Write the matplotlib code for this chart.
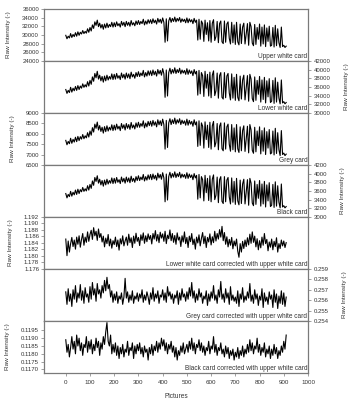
import numpy as np
import matplotlib
matplotlib.use("Agg")
import matplotlib.pyplot as plt

plt.rcParams['font.family'] = ['Liberation Sans', 'DejaVu Sans']

# picture index (every 5th picture)
pictures = np.arange(0, 911, 5)

upper_white = [
    29900, 29100, 29700, 29300, 30300, 29400, 30100, 29600, 30500, 29700,
    30700, 29900, 30600, 30200, 31000, 30300, 30800, 30400, 31400, 30600,
    31700, 30900, 32300, 31500, 33000, 32200, 33400, 31900, 32700, 31600,
    32400, 31300, 32500, 31600, 32700, 31700, 32400, 31900, 32900, 31800,
    32800, 31900, 33000, 32100, 32600, 31800, 33100, 32200, 32900, 31900,
    33100, 32200, 32900, 32000, 33300, 32300, 32800, 32100, 33200, 32400,
    33300, 32400, 33100, 32600, 33600, 32300, 33200, 32500, 33500, 32700,
    33500, 32600, 33700, 32800, 33400, 32500, 33800, 32900, 33600, 32700,
    33900, 32900, 28300, 33700, 28600, 33200, 34000, 32900, 33800, 33100,
    34100, 33000, 33800, 33200, 34000, 32900, 33700, 33100, 33600, 32800,
    33900, 32800, 33700, 33000, 33500, 32600, 33800, 32900, 33400, 28800,
    33600, 29000, 33200, 32600, 28500, 33400, 30100, 32800, 28600, 33300,
    28300, 32700, 33500, 28700, 29600, 33100, 28200, 32600, 33200, 28400,
    28000, 33200, 28300, 32500, 33000, 29200, 27900, 32900, 28200, 32300,
    27800, 32900, 28400, 27700, 32500, 28000, 31800, 32700, 27900, 30200,
    32600, 27600, 32900, 31900, 28100, 27500, 32400, 27800, 31700, 29000,
    32500, 27400, 31800, 27900, 32300, 27300, 31600, 28500, 32000, 27400,
    27600, 31700, 27200, 32200, 27500, 31400, 28200, 27100, 31800, 27300,
    27600, 27100, 27400]

lower_white = [
    35400, 34500, 35200, 34700, 35900, 34800, 35700, 35100, 36100, 35200,
    36300, 35400, 36200, 35700, 36700, 35900, 36500, 36000, 37200, 36200,
    37500, 36600, 38300, 37300, 39100, 38100, 39600, 37800, 38700, 37400,
    38400, 37100, 38500, 37400, 38700, 37600, 38400, 37800, 39000, 37700,
    38900, 37800, 39100, 38000, 38600, 37700, 39200, 38100, 38900, 37800,
    39200, 38100, 39000, 37900, 39400, 38300, 38900, 38000, 39300, 38400,
    39500, 38400, 39200, 38600, 39800, 38300, 39300, 38500, 39700, 38700,
    39700, 38600, 39900, 38800, 39600, 38500, 40000, 39000, 39800, 38700,
    40200, 39000, 33600, 39900, 33900, 39300, 40300, 39000, 40000, 39200,
    40400, 39100, 40000, 39300, 40300, 39000, 39900, 39200, 39800, 38900,
    40200, 38900, 39900, 39100, 39700, 38600, 40000, 39000, 39600, 34100,
    39800, 34400, 39300, 38600, 33800, 39600, 35700, 38900, 33900, 39400,
    33500, 38700, 39700, 34000, 35100, 39200, 33400, 38600, 39300, 33600,
    33200, 39300, 33500, 38500, 39100, 34600, 33000, 39000, 33400, 38200,
    32900, 38900, 33600, 32800, 38500, 33200, 37600, 38700, 33000, 35800,
    38600, 32700, 38900, 37800, 33300, 32600, 38300, 32900, 37500, 34300,
    38400, 32500, 37600, 33100, 38200, 32300, 37400, 33700, 37900, 32400,
    32700, 37500, 32200, 38100, 32500, 37100, 33400, 32100, 37600, 32300,
    32600, 32100, 32400]

grey_card = [
    7680, 7470, 7630, 7520, 7780, 7540, 7730, 7600, 7830, 7620,
    7870, 7670, 7860, 7740, 7960, 7760, 7900, 7800, 8050, 7840,
    8130, 7930, 8290, 8080, 8460, 8260, 8560, 8180, 8390, 8110,
    8310, 8030, 8340, 8100, 8380, 8130, 8310, 8180, 8430, 8150,
    8410, 8180, 8460, 8230, 8360, 8150, 8490, 8260, 8430, 8180,
    8490, 8260, 8440, 8210, 8540, 8280, 8420, 8230, 8520, 8310,
    8550, 8310, 8490, 8360, 8620, 8280, 8510, 8330, 8590, 8390,
    8600, 8360, 8640, 8410, 8570, 8330, 8670, 8430, 8620, 8390,
    8700, 8440, 7260, 8640, 7340, 8520, 8720, 8440, 8670, 8490,
    8750, 8460, 8670, 8520, 8720, 8440, 8650, 8490, 8620, 8410,
    8700, 8410, 8640, 8460, 8590, 8360, 8670, 8430, 8570, 7390,
    8620, 7440, 8520, 8360, 7310, 8570, 7720, 8410, 7340, 8550,
    7260, 8380, 8590, 7370, 7590, 8490, 7230, 8360, 8520, 7280,
    7180, 8520, 7260, 8330, 8460, 7490, 7160, 8440, 7230, 8280,
    7130, 8440, 7280, 7100, 8330, 7180, 8150, 8380, 7150, 7740,
    8360, 7080, 8440, 8180, 7200, 7060, 8310, 7130, 8130, 7430,
    8330, 7030, 8150, 7160, 8280, 7000, 8100, 7310, 8200, 7030,
    7080, 8130, 6980, 8260, 7050, 8050, 7230, 6950, 8150, 7000,
    7070, 6950, 7020]

black_card = [
    3540, 3440, 3520, 3470, 3590, 3480, 3570, 3510, 3620, 3520,
    3640, 3540, 3630, 3580, 3680, 3590, 3650, 3600, 3720, 3620,
    3750, 3660, 3830, 3730, 3910, 3820, 3950, 3780, 3870, 3740,
    3840, 3710, 3850, 3740, 3870, 3760, 3840, 3780, 3900, 3770,
    3890, 3780, 3910, 3800, 3860, 3770, 3920, 3810, 3890, 3780,
    3920, 3810, 3900, 3790, 3940, 3820, 3890, 3800, 3930, 3840,
    3950, 3840, 3920, 3860, 3980, 3830, 3930, 3850, 3970, 3870,
    3980, 3860, 3990, 3880, 3960, 3850, 4010, 3900, 3980, 3870,
    4020, 3900, 3350, 3990, 3390, 3930, 4030, 3900, 4000, 3920,
    4040, 3910, 4000, 3930, 4030, 3900, 3990, 3920, 3980, 3890,
    4020, 3890, 3990, 3910, 3970, 3860, 4000, 3900, 3960, 3410,
    3980, 3440, 3930, 3860, 3370, 3960, 3560, 3890, 3380, 3950,
    3350, 3870, 3970, 3400, 3500, 3920, 3330, 3860, 3930, 3360,
    3310, 3930, 3350, 3850, 3910, 3460, 3300, 3900, 3340, 3820,
    3290, 3890, 3370, 3280, 3850, 3310, 3760, 3870, 3300, 3580,
    3860, 3270, 3890, 3780, 3320, 3260, 3830, 3290, 3750, 3430,
    3840, 3250, 3760, 3300, 3820, 3230, 3740, 3370, 3790, 3240,
    3270, 3750, 3220, 3810, 3250, 3720, 3340, 3210, 3760, 3230,
    3260, 3210, 3240]

lower_corrected = [
    1.1852, 1.1801, 1.1846, 1.1812, 1.1838, 1.1857, 1.1829, 1.1849, 1.1821, 1.1858,
    1.1836, 1.1862, 1.1827, 1.1851, 1.1869, 1.1833, 1.1858, 1.1842, 1.1874, 1.1845,
    1.1866, 1.1879, 1.1851, 1.1887, 1.1862, 1.1876, 1.1848, 1.1883, 1.1857, 1.1869,
    1.1843, 1.1861, 1.1828, 1.1855, 1.1838, 1.1866, 1.1831, 1.1852, 1.1824, 1.1847,
    1.1835, 1.1858, 1.1829, 1.1849, 1.1818, 1.1853, 1.1837, 1.1862, 1.1831, 1.1846,
    1.1858, 1.1833, 1.1867, 1.1841, 1.1856, 1.1826, 1.1861, 1.1839, 1.1870, 1.1845,
    1.1857, 1.1832, 1.1865, 1.1848, 1.1871, 1.1839, 1.1862, 1.1844, 1.1868, 1.1851,
    1.1863, 1.1837, 1.1869, 1.1852, 1.1878, 1.1846, 1.1866, 1.1841, 1.1873, 1.1855,
    1.1868, 1.1845, 1.1876, 1.1838, 1.1864, 1.1853, 1.1880, 1.1847, 1.1869, 1.1842,
    1.1863, 1.1836, 1.1871, 1.1849, 1.1858, 1.1829, 1.1862, 1.1843, 1.1874, 1.1838,
    1.1857, 1.1826, 1.1861, 1.1844, 1.1869, 1.1835, 1.1852, 1.1821, 1.1858, 1.1840,
    1.1865, 1.1831, 1.1854, 1.1872, 1.1838, 1.1861, 1.1826, 1.1857, 1.1843, 1.1868,
    1.1834, 1.1859, 1.1841, 1.1876, 1.1846, 1.1869, 1.1852, 1.1881, 1.1858, 1.1891,
    1.1847, 1.1872, 1.1836, 1.1859, 1.1828, 1.1851, 1.1833, 1.1857, 1.1822, 1.1846,
    1.1831, 1.1852, 1.1815, 1.1796, 1.1838, 1.1812, 1.1845, 1.1823, 1.1849, 1.1829,
    1.1856, 1.1834, 1.1867, 1.1839, 1.1874, 1.1842, 1.1861, 1.1828, 1.1853, 1.1819,
    1.1847, 1.1825, 1.1858, 1.1833, 1.1869, 1.1838, 1.1851, 1.1816, 1.1843, 1.1827,
    1.1852, 1.1819, 1.1845, 1.1829, 1.1856, 1.1812, 1.1838, 1.1823, 1.1849, 1.1831,
    1.1846, 1.1826, 1.1841]

grey_corrected = [
    0.2568, 0.2556, 0.2571, 0.2559, 0.2566, 0.2554, 0.2570, 0.2561, 0.2574, 0.2558,
    0.2567, 0.2562, 0.2575, 0.2560, 0.2569, 0.2557, 0.2572, 0.2563, 0.2566, 0.2558,
    0.2573, 0.2561, 0.2577, 0.2565, 0.2571, 0.2559, 0.2576, 0.2566, 0.2570, 0.2562,
    0.2574, 0.2567, 0.2579, 0.2569, 0.2582, 0.2571, 0.2575, 0.2563, 0.2569, 0.2558,
    0.2566, 0.2560, 0.2568, 0.2557, 0.2564, 0.2561, 0.2567, 0.2556, 0.2563, 0.2581,
    0.2562, 0.2568, 0.2558, 0.2565, 0.2560, 0.2569, 0.2557, 0.2564, 0.2561, 0.2567,
    0.2559, 0.2566, 0.2562, 0.2570, 0.2558, 0.2565, 0.2560, 0.2568, 0.2563, 0.2556,
    0.2567, 0.2561, 0.2572, 0.2559, 0.2566, 0.2562, 0.2569, 0.2557, 0.2565, 0.2563,
    0.2570, 0.2560, 0.2567, 0.2558, 0.2573, 0.2564, 0.2568, 0.2561, 0.2566, 0.2557,
    0.2565, 0.2562, 0.2569, 0.2556, 0.2567, 0.2560, 0.2571, 0.2563, 0.2566, 0.2559,
    0.2568, 0.2561, 0.2572, 0.2564, 0.2577, 0.2562, 0.2569, 0.2558, 0.2566, 0.2560,
    0.2571, 0.2563, 0.2567, 0.2557, 0.2564, 0.2561, 0.2569, 0.2555, 0.2566, 0.2559,
    0.2568, 0.2562, 0.2574, 0.2560, 0.2565, 0.2557, 0.2570, 0.2563, 0.2578, 0.2561,
    0.2566, 0.2558, 0.2571, 0.2562, 0.2567, 0.2556, 0.2573, 0.2560, 0.2565, 0.2559,
    0.2563, 0.2557, 0.2569, 0.2554, 0.2566, 0.2561, 0.2572, 0.2558, 0.2564, 0.2560,
    0.2568, 0.2562, 0.2576, 0.2559, 0.2565, 0.2557, 0.2570, 0.2561, 0.2566, 0.2555,
    0.2564, 0.2560, 0.2571, 0.2553, 0.2567, 0.2559, 0.2563, 0.2556, 0.2568, 0.2561,
    0.2565, 0.2553, 0.2570, 0.2558, 0.2566, 0.2552, 0.2564, 0.2557, 0.2569, 0.2556,
    0.2567, 0.2554, 0.2563]

black_corrected = [
    0.1189, 0.1181, 0.1186, 0.1178, 0.1184, 0.1191, 0.1183, 0.1188, 0.1180, 0.1192,
    0.1185, 0.1190, 0.1182, 0.1187, 0.1179, 0.1186, 0.1184, 0.1191, 0.1181, 0.1188,
    0.1183, 0.1189, 0.1180, 0.1186, 0.1182, 0.1190, 0.1184, 0.1188, 0.1179, 0.1187,
    0.1183, 0.1191, 0.1186, 0.1194, 0.1200, 0.1188, 0.1185, 0.1192, 0.1180, 0.1186,
    0.1181, 0.1187, 0.1179, 0.1185, 0.1177, 0.1184, 0.1180, 0.1186, 0.1178, 0.1183,
    0.1181, 0.1188, 0.1179, 0.1184, 0.1182, 0.1187, 0.1177, 0.1185, 0.1180, 0.1186,
    0.1182, 0.1187, 0.1180, 0.1184, 0.1178, 0.1185, 0.1181, 0.1183, 0.1176, 0.1184,
    0.1180, 0.1186, 0.1179, 0.1185, 0.1182, 0.1188, 0.1181, 0.1187, 0.1183, 0.1190,
    0.1185, 0.1189, 0.1182, 0.1187, 0.1180, 0.1186, 0.1183, 0.1188, 0.1181, 0.1185,
    0.1178, 0.1184, 0.1176, 0.1182, 0.1179, 0.1185, 0.1181, 0.1187, 0.1180, 0.1183,
    0.1186, 0.1181, 0.1188, 0.1183, 0.1190, 0.1182, 0.1187, 0.1180, 0.1186, 0.1184,
    0.1189, 0.1182, 0.1187, 0.1181, 0.1185, 0.1179, 0.1184, 0.1182, 0.1188, 0.1180,
    0.1185, 0.1183, 0.1191, 0.1181, 0.1186, 0.1179, 0.1184, 0.1182, 0.1187, 0.1180,
    0.1183, 0.1178, 0.1185, 0.1180, 0.1184, 0.1177, 0.1182, 0.1179, 0.1183, 0.1176,
    0.1181, 0.1178, 0.1184, 0.1177, 0.1182, 0.1179, 0.1185, 0.1178, 0.1183, 0.1180,
    0.1186, 0.1181, 0.1189, 0.1182, 0.1187, 0.1180, 0.1185, 0.1183, 0.1190, 0.1181,
    0.1186, 0.1179, 0.1184, 0.1181, 0.1187, 0.1178, 0.1183, 0.1180, 0.1185, 0.1177,
    0.1183, 0.1179, 0.1186, 0.1180, 0.1184, 0.1177, 0.1182, 0.1179, 0.1185, 0.1181,
    0.1188, 0.1183, 0.1192]

series = [upper_white, lower_white, grey_card, black_card,
          lower_corrected, grey_corrected, black_corrected]
panel_labels = ["Upper white card", "Lower white card", "Grey card", "Black card",
                "Lower white card corrected with upper white card",
                "Grey card corrected with upper white card",
                "Black card corrected with upper white card"]
y_ticks = [
    [24000, 26000, 28000, 30000, 32000, 34000, 36000],
    [30000, 32000, 34000, 36000, 38000, 40000, 42000],
    [6500, 7000, 7500, 8000, 8500, 9000],
    [3000, 3200, 3400, 3600, 3800, 4000, 4200],
    [1.176, 1.178, 1.180, 1.182, 1.184, 1.186, 1.188, 1.190, 1.192],
    [0.254, 0.255, 0.256, 0.257, 0.258, 0.259],
    [0.1170, 0.1175, 0.1180, 0.1185, 0.1190, 0.1195],
]
y_tick_fmt = ["{:.0f}", "{:.0f}", "{:.0f}", "{:.0f}", "{:.3f}", "{:.3f}", "{:.4f}"]
y_limits = [(24000, 36000), (30000, 42000), (6500, 9000), (3000, 4200),
            (1.176, 1.192), (0.254, 0.259), (0.11677, 0.1201)]
x_ticks = [0, 100, 200, 300, 400, 500, 600, 700, 800, 900, 1000]

fig, axes = plt.subplots(7, 1, figsize=(3.49, 4.03), dpi=100, sharex=True)
fig.subplots_adjust(left=0.126, right=0.8825, top=0.978, bottom=0.0744, hspace=0)

spine_col = '#7a7a7a'
txt_col = '#333333'
for i, ax in enumerate(axes):
    ax.plot(pictures, series[i], color='black', lw=0.8)
    ax.set_ylim(*y_limits[i])
    ax.set_xlim(-90, 1000)
    for s in ax.spines.values():
        s.set_color(spine_col)
        s.set_linewidth(0.9)
    ax.set_yticks(y_ticks[i])
    ax.set_yticklabels([y_tick_fmt[i].format(v) for v in y_ticks[i]])
    right = (i % 2 == 1)
    if right:
        ax.yaxis.tick_right()
        ax.yaxis.set_label_position('right')
        pad = 2.5
        lpad = 9
    else:
        ax.yaxis.tick_left()
        pad = 1.5
        lpad = 8
    ax.tick_params(axis='y', labelsize=4.3, length=2, width=0.5, pad=pad,
                   colors=spine_col, labelcolor=txt_col, direction='out')
    ax.set_ylabel("Raw Intensity (-)", fontsize=4.6, color=txt_col, labelpad=lpad)
    ax.text(0.998, 0.01, panel_labels[i], transform=ax.transAxes, ha='right',
            va='bottom', fontsize=4.7, color=txt_col)
    if i < 6:
        ax.tick_params(axis='x', bottom=False, labelbottom=False)

axes[-1].set_xticks(x_ticks)
axes[-1].tick_params(axis='x', labelsize=4.5, length=2, width=0.5, pad=3,
                     colors=spine_col, labelcolor=txt_col, direction='out')
axes[-1].set_xlabel("Pictures", fontsize=4.7, color=txt_col, labelpad=6)

fig.savefig("out.png", dpi=100)
